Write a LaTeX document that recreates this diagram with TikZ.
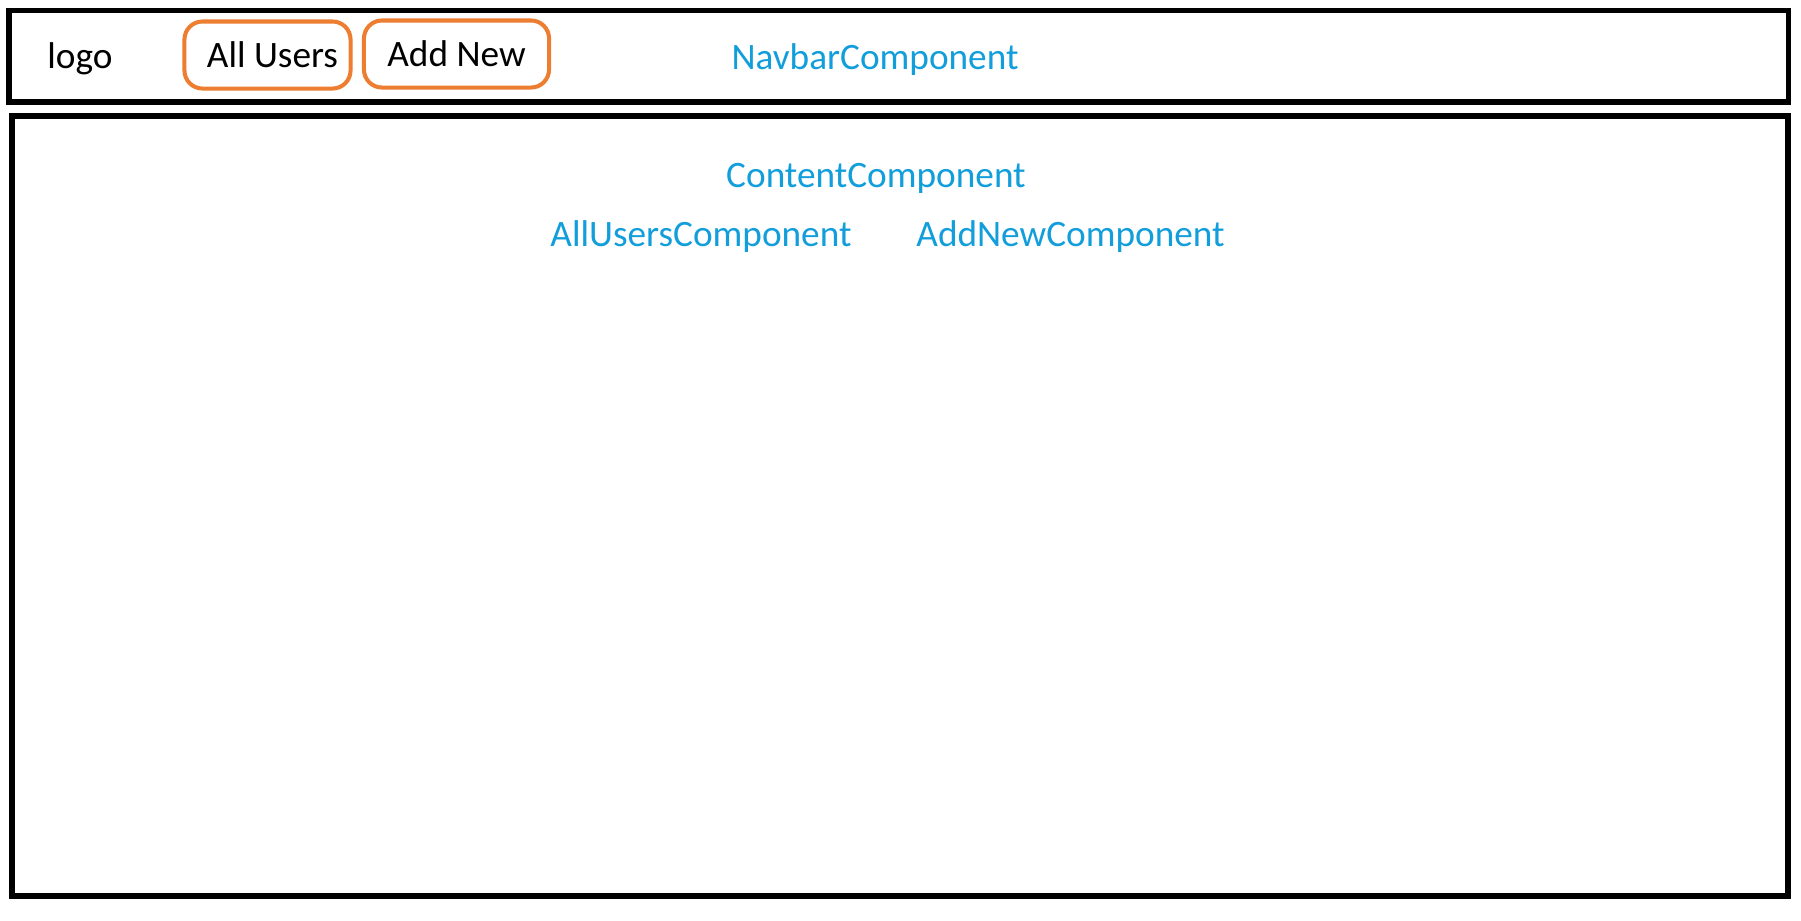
\documentclass[tikz,border=0pt]{standalone}
\usepackage{fontspec}
\setmainfont{Carlito}
\usetikzlibrary{positioning}
\definecolor{compblue}{RGB}{17,158,218}
\definecolor{btnorange}{RGB}{237,125,49}

\begin{document}
\begin{tikzpicture}[x=0.01cm, y=-0.01cm, font=\fontsize{10.6}{12}\selectfont]
    \tikzset{
        panel/.style={draw, line width=1.6pt, rectangle, inner sep=0pt},
        navbtn/.style={draw=btnorange, line width=1.15pt, rectangle, rounded corners=0.18cm, inner sep=0pt},
        complabel/.style={text=compblue}
    }
    \useasboundingbox (0,0) rectangle (1801,920);

    % Navbar
    \node [panel, minimum width=17.785cm, minimum height=0.915cm] (navbar) at (898.75,56.25) {};
    \node (logo) at (80,59) {logo};
    \node [navbtn, minimum width=1.66cm, minimum height=0.67cm] (allusers) at (267.5,55) {\hspace{0.1cm}All Users};
    \node [navbtn, minimum width=1.85cm, minimum height=0.67cm] (addnew) at (456.5,54) {Add New};
    \node [complabel] (navcomp) at (875,60) {NavbarComponent};

    % Content
    \node [panel, minimum width=17.75cm, minimum height=7.795cm] (content) at (900,505.75) {};
    \node [complabel] (contentcomp) at (876,178) {ContentComponent};
    \node [complabel] (alluserscomp) at (701,237) {AllUsersComponent};
    \node [complabel, right=0.4cm of alluserscomp] (addnewcomp) {AddNewComponent};
\end{tikzpicture}
\end{document}
